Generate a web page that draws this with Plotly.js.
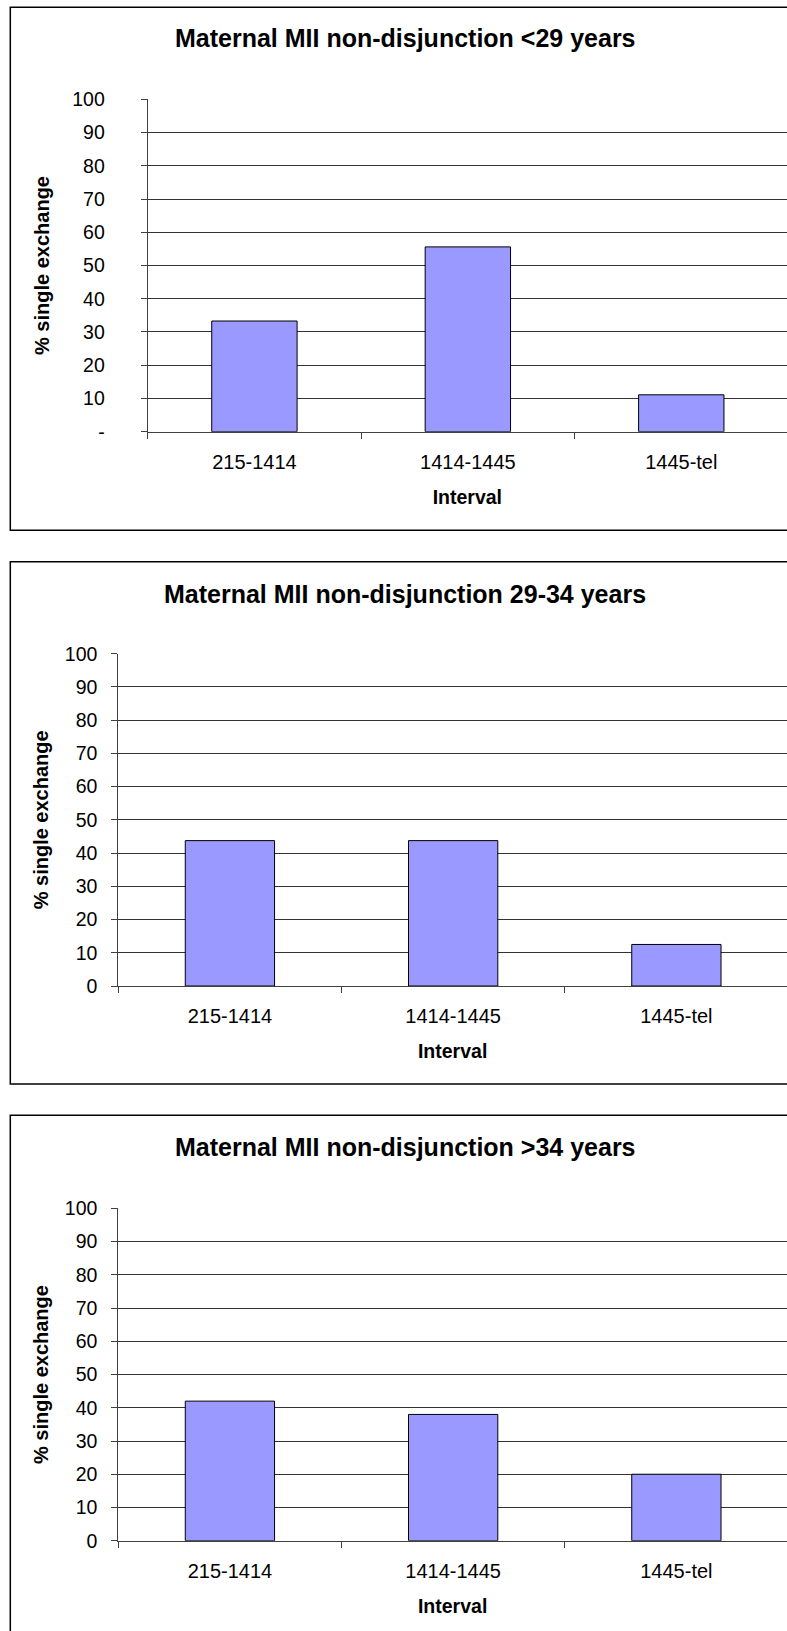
<!DOCTYPE html>
<html>
<head>
<meta charset="utf-8">
<script src="https://cdn.plot.ly/plotly-3.0.1.min.js"></script>
<style>
  html, body { margin: 0; padding: 0; background: #fff; overflow: hidden; }
  #chart { width: 787px; height: 1631px; }
</style>
</head>
<body>
<div id="chart"></div>
<script>
// ---- data ----
const categories = ["215-1414", "1414-1445", "1445-tel"];
const valuesUnder29 = [33.3, 55.6, 11.1];
const values29to34 = [43.75, 43.75, 12.5];
const valuesOver34 = [42, 38, 20];
const yTickVals = [0, 10, 20, 30, 40, 50, 60, 70, 80, 90, 100];
const yTickTextDash = ["-", "10", "20", "30", "40", "50", "60", "70", "80", "90", "100"];
const yTickTextZero = ["0", "10", "20", "30", "40", "50", "60", "70", "80", "90", "100"];
const chartTitles = [
  "Maternal MII non-disjunction <29 years",
  "Maternal MII non-disjunction 29-34 years",
  "Maternal MII non-disjunction >34 years"
];
const xTitle = "Interval";
const yTitle = "% single exchange";

// ---- layout helpers (pixel geometry of the 787x1631 page) ----
const W = 787, H = 1631;
const FONT = "Liberation Sans, Arial, sans-serif";
const px = v => v / W;
const py = v => 1 - v / H;

const panels = [
  { values: valuesUnder29, ticktext: yTickTextDash, left: 147.7, top: 99.3, bottom: 431.7,
    frameTop: 7.3, frameBottom: 530.3, titleY: 38.0, tickStandoff: 32, yStandoff: 17 },
  { values: values29to34, ticktext: yTickTextZero, left: 118.3, top: 653.7, bottom: 986.0,
    frameTop: 561.7, frameBottom: 1084.0, titleY: 593.7, tickStandoff: 10, yStandoff: 10 },
  { values: valuesOver34, ticktext: yTickTextZero, left: 118.3, top: 1208.4, bottom: 1540.7,
    frameTop: 1115.2, frameBottom: 1640, titleY: 1147.4, tickStandoff: 10, yStandoff: 10 }
];

const traces = [];
const layout = {
  width: W, height: H,
  margin: { l: 0, r: 0, t: 0, b: 0, pad: 0 },
  paper_bgcolor: "#ffffff",
  plot_bgcolor: "rgba(0,0,0,0)",
  showlegend: false,
  bargap: 0.6,
  font: { family: FONT, color: "#000000", size: 19 },
  annotations: [],
  shapes: []
};

panels.forEach((p, i) => {
  const n = i === 0 ? "" : String(i + 1);
  const xa = "x" + n, ya = "y" + n;
  traces.push({
    type: "bar",
    x: categories,
    y: p.values,
    xaxis: xa, yaxis: ya,
    marker: { color: "#9999FF", line: { color: "#000000", width: 1 } },
    hoverinfo: "x+y"
  });
  const plotRightEdge = 788; // plot area continues just past the page edge
  const catWidth = (plotRightEdge - p.left) / categories.length;
  const rangeMax = -0.5 + (W - p.left) / catWidth;
  layout["xaxis" + n] = {
    anchor: ya,
    domain: [px(p.left), 1],
    range: [-0.5, rangeMax],
    type: "category",
    showline: true, linecolor: "#404040", linewidth: 1,
    ticks: "outside", tickson: "boundaries", ticklen: 6, tickcolor: "#404040", tickwidth: 1,
    ticklabelstandoff: 12,
    showgrid: false, zeroline: false,
    tickfont: { family: FONT, size: 20, color: "#000" },
    title: { text: xTitle, standoff: 18, font: { family: FONT, size: 19.5, weight: 700, color: "#000" } },
    automargin: false, fixedrange: true
  };
  layout["yaxis" + n] = {
    anchor: xa,
    domain: [py(p.bottom), py(p.top)],
    range: [0, 100],
    tickmode: "array", tickvals: yTickVals, ticktext: p.ticktext,
    showline: true, linecolor: "#404040", linewidth: 1,
    ticks: "outside", ticklen: 6, tickcolor: "#404040", tickwidth: 1,
    ticklabelstandoff: p.tickStandoff,
    showgrid: true, gridcolor: "#333333", gridwidth: 1,
    zeroline: false,
    tickfont: { family: FONT, size: 19.5, color: "#000" },
    title: { text: yTitle, standoff: p.yStandoff, font: { family: FONT, size: 20, weight: 700, color: "#000" } },
    automargin: false, fixedrange: true
  };
  layout.annotations.push({
    text: chartTitles[i],
    xref: "paper", yref: "paper",
    x: px(405), y: py(p.titleY),
    xanchor: "center", yanchor: "middle",
    showarrow: false,
    font: { family: FONT, size: 25, weight: 700, color: "#000" }
  });
  layout.shapes.push({
    type: "rect", xref: "paper", yref: "paper",
    x0: px(10.3), x1: px(800),
    y0: py(p.frameBottom), y1: py(p.frameTop),
    line: { color: "#000000", width: 1.5 },
    fillcolor: "rgba(0,0,0,0)",
    layer: "below"
  });
});

Plotly.newPlot("chart", traces, layout, { staticPlot: true, displayModeBar: false });
</script>
</body>
</html>
